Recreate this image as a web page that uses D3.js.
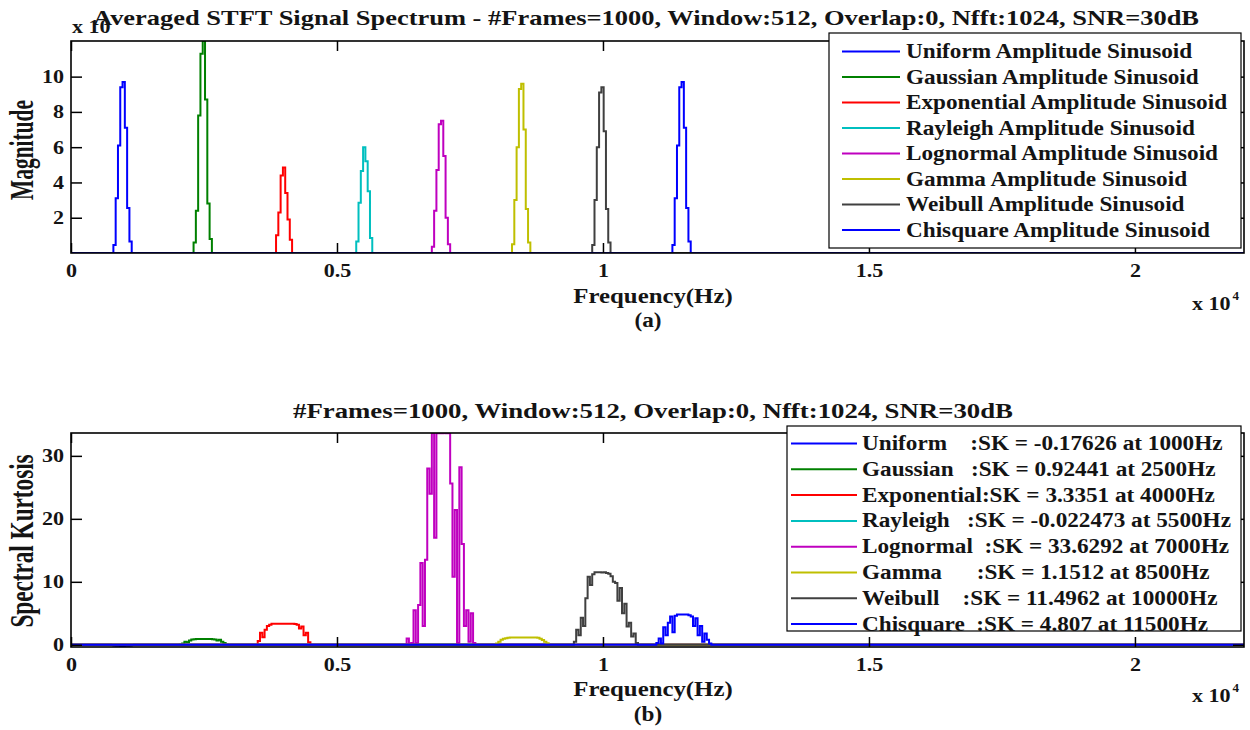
<!DOCTYPE html>
<html>
<head>
<meta charset="utf-8">
<script src="https://cdn.jsdelivr.net/npm/d3@7"></script>
<style>
  html, body { margin: 0; padding: 0; background: #fff; }
  svg { display: block; }
  text {
    font-family: "Liberation Serif", "Times New Roman", serif;
    font-weight: bold;
    fill: #141414;
    white-space: pre;
  }
</style>
</head>
<body>
<svg id="fig" width="1250" height="730"></svg>
<script>
// ---- Analysis settings ----
const sampleRate = 44100;
const nfft = 1024;
const frameCount = 1000, windowLen = 512, overlap = 0, snrDb = 30;

// ---- Signals ----
const signalNames = ["Uniform", "Gaussian", "Exponential", "Rayleigh",
                     "Lognormal", "Gamma", "Weibull", "Chisquare"];
const skLabelNames = ["Uniform    ", "Gaussian   ", "Exponential", "Rayleigh   ",
                      "Lognormal  ", "Gamma      ", "Weibull    ", "Chisquare  "];
const toneFreqs = [1000, 2500, 4000, 5500, 7000, 8500, 10000, 11500];
const skValues = [-0.17626, 0.92441, 3.3351, -0.022473, 33.6292, 1.1512, 11.4962, 4.807];

// ---- Averaged magnitude spectrum (non-zero bins around each tone) ----
const spectrumStartBin = [18, 53, 89, 124, 157, 192, 227, 262];
const uniformMag     = [0, 0.45, 3.1, 6.1, 9.4, 9.7, 7.1, 2.55, 0.65, 0];
const gaussianMag    = [0, 0.6, 2.4, 7.8, 11.3, 12.02, 8.7, 2.8, 0.8, 0];
const exponentialMag = [0, 1.0, 2.3, 4.4, 4.85, 3.4, 1.9, 0.75, 0];
const rayleighMag    = [0, 0.65, 2.85, 4.65, 6.0, 5.2, 3.5, 0.85, 0];
const lognormalMag   = [0, 0.35, 2.4, 4.7, 7.3, 7.5, 5.5, 2.0, 0.5, 0];
const gammaMag       = [0, 0.5, 3.0, 6.0, 9.3, 9.6, 7.0, 2.5, 0.6, 0];
const weibullMag     = [0, 0.45, 3.0, 6.0, 9.1, 9.4, 6.9, 2.5, 0.6, 0];
const chisquareMag   = [0, 0.45, 3.1, 6.1, 9.4, 9.7, 7.1, 2.55, 0.65, 0];

// ---- Spectral kurtosis (non-zero bins around each tone) ----
const skStartBin = [17, 47, 81, 124, 146, 185, 219, 255];
const uniformSK     = [0, -0.05, -0.12, -0.16, -0.17, -0.175, -0.17626, -0.17, -0.15, -0.1, -0.05, 0];
const gaussianSK    = [0, 0.05, 0.2, 0.5, 0.4, 0.7, 0.85, 0.9, 0.92, 0.92, 0.92, 0.92441, 0.92, 0.92,
                       0.91, 0.9, 0.85, 0.7, 0.8, 0.5, 0.3, 0.05, 0];
const exponentialSK = [0, 0.6, 1.9, 1.2, 2.4, 3.0, 3.2, 3.33, 3.34, 3.34, 3.34, 3.34, 3.3351,
                       3.34, 3.34, 3.34, 3.34, 3.3, 3.2, 2.6, 2.9, 1.5, 1.9, 0.4, 0];
const rayleighSK    = [0, -0.01, -0.02, -0.022, -0.022473, -0.02, -0.01, 0];
const lognormalSK   = [0, 1.0, 0.2, 0.3, 5.5, 0.3, 6.3, 13.0, 3.0, 13.5, 28.0, 24.0, 33.6, 17.0,
                       33.6, 33.6, 33.6, 33.6292, 33.6, 33.6, 25.6, 10.8, 21.4, 0.3, 28.2,
                       16.0, 3.0, 5.5, 0.5, 5.0, 0.3, 0];
const gammaSK       = [0, 0.2, 0.5, 0.8, 0.95, 1.05, 1.1, 1.15, 1.15, 1.15, 1.15, 1.15, 1.1512,
                       1.15, 1.15, 1.15, 1.15, 1.15, 1.15, 1.1, 0.95, 0.75, 0.5, 0.25, 0];
const weibullSK     = [0, 0.5, 2.4, 1.5, 4.3, 3.0, 7.4, 10.8, 9.5, 11.2, 11.5, 11.5, 11.5, 11.4962,
                       11.5, 11.4, 11.3, 10.9, 10.0, 9.8, 7.0, 9.0, 5.0, 6.5, 2.9, 3.5, 1.3, 1.8, 0.3, 0];
const chisquareSK   = [0, 0.3, 1.0, 0.2, 2.8, 1.5, 3.5, 4.5, 2.0, 4.6, 4.8, 4.8, 4.807, 4.8,
                       4.8, 4.7, 4.5, 3.0, 4.2, 1.5, 3.0, 0.5, 1.8, 0.8, 0.2, 0];

// ---- Axis ticks ----
const freqTicks = [0, 5000, 10000, 15000, 20000];
const magTicks = [2, 4, 6, 8, 10];
const skTicks = [0, 10, 20, 30];

// ---- Line colours (MATLAB default order) ----
const lineColors = ["#0000ff", "#008000", "#ff0000", "#00bfbf",
                    "#bf00bf", "#bfbf00", "#404040", "#0000ff"];

const magSeries = [uniformMag, gaussianMag, exponentialMag, rayleighMag,
                   lognormalMag, gammaMag, weibullMag, chisquareMag];
const skSeries = [uniformSK, gaussianSK, exponentialSK, rayleighSK,
                  lognormalSK, gammaSK, weibullSK, chisquareSK];

const binHz = sampleRate / nfft;
const nyquist = sampleRate / 2;

// Full-range trace: zero outside the listed bins
function trace(startBin, vals) {
  const pts = [[0, 0]];
  vals.forEach((v, i) => pts.push([(startBin + i) * binHz, v]));
  pts.push([nyquist, 0]);
  return pts;
}

const svg = d3.select("#fig");
const TX = 1.16; // horizontal text stretch

function stretch(sel, k) {
  sel.each(function () {
    const w = this.getComputedTextLength();
    d3.select(this).attr("textLength", w * k).attr("lengthAdjust", "spacingAndGlyphs");
  });
  return sel;
}
function fitWidth(sel, w) {
  return sel.attr("textLength", w).attr("lengthAdjust", "spacingAndGlyphs");
}

const x = d3.scaleLinear().domain([0, nyquist]).range([71, 1244]);

function drawPanel(cfg) {
  const { y, yTicks, top, bottom, data, startBins, clipId } = cfg;
  const g = svg.append("g");

  g.append("clipPath").attr("id", clipId)
    .append("rect").attr("x", x.range()[0]).attr("y", top)
    .attr("width", x.range()[1] - x.range()[0]).attr("height", bottom - top);

  // series, drawn as per-bin steps
  const line = d3.line().x(d => x(d[0])).y(d => y(d[1])).curve(d3.curveStep);
  const lines = g.append("g").attr("clip-path", `url(#${clipId})`);
  data.forEach((vals, i) => {
    lines.append("path")
      .attr("d", line(trace(startBins[i], vals)))
      .attr("fill", "none")
      .attr("stroke", lineColors[i])
      .attr("stroke-width", 2)
      .attr("stroke-linejoin", "miter");
  });

  // bottom axis (ticks pointing inward)
  const xb = g.append("g").attr("transform", `translate(0,${bottom})`)
    .call(d3.axisBottom(x).tickValues(freqTicks).tickSizeInner(-10).tickSizeOuter(0)
      .tickPadding(11).tickFormat(d => d3.format("~g")(d / 10000)));
  // top mirror ticks
  const xt = g.append("g").attr("transform", `translate(0,${top})`)
    .call(d3.axisTop(x).tickValues(freqTicks).tickSizeInner(-10).tickSizeOuter(0).tickFormat(""));
  // left axis
  const yl = g.append("g").attr("transform", `translate(${x.range()[0]},0)`)
    .call(d3.axisLeft(y).tickValues(yTicks).tickSizeInner(-11).tickSizeOuter(0).tickPadding(7));
  // right mirror ticks
  const yr = g.append("g").attr("transform", `translate(${x.range()[1]},0)`)
    .call(d3.axisRight(y).tickValues(yTicks).tickSizeInner(-11).tickSizeOuter(0).tickFormat(""));

  [xb, xt, yl, yr].forEach(a => {
    a.select(".domain").remove();
    a.selectAll(".tick line").attr("stroke", "#000").attr("stroke-width", 1.5);
    a.selectAll("text").attr("font-size", 19).attr("fill", "#141414")
      .attr("font-family", null);
  });
  stretch(xb.selectAll("text"), TX);
  stretch(yl.selectAll("text"), TX);

  // axes box
  g.append("rect")
    .attr("x", x.range()[0]).attr("y", top)
    .attr("width", x.range()[1] - x.range()[0]).attr("height", bottom - top)
    .attr("fill", "none").attr("stroke", "#000").attr("stroke-width", 1.6);
  return g;
}

// ===== Panel (a): averaged magnitude spectrum =====
const yMag = d3.scaleLinear().domain([0, 12.02]).range([253, 41]);
drawPanel({ y: yMag, yTicks: magTicks, top: 41, bottom: 253,
            data: magSeries, startBins: spectrumStartBin, clipId: "clipA" });

// ===== Panel (b): spectral kurtosis =====
const ySK = d3.scaleLinear().domain([-0.35, 33.63]).range([647, 433]);
drawPanel({ y: ySK, yTicks: skTicks, top: 433, bottom: 647,
            data: skSeries, startBins: skStartBin, clipId: "clipB" });

// ---- exponent labels ----
function expLabel(px, py, exp) {
  const t = svg.append("text").attr("x", px).attr("y", py).attr("font-size", 19);
  t.append("tspan").text("x 10");
  stretch(t, TX);
  if (exp !== null) {
    const w = +t.attr("textLength");
    svg.append("text").attr("x", px + w + 2).attr("y", py - 10)
      .attr("font-size", 13).text(exp);
  }
}
expLabel(72, 33, null);
expLabel(1192, 310, "4");
expLabel(1192, 702, "4");

// ---- titles ----
const settings = `#Frames=${frameCount}, Window:${windowLen}, Overlap:${overlap}, Nfft:${nfft}, SNR=${snrDb}dB`;
fitWidth(svg.append("text").attr("x", 93).attr("y", 25).attr("font-size", 21)
  .text(`Averaged STFT Signal Spectrum - ${settings}`), 1106);
fitWidth(svg.append("text").attr("x", 293).attr("y", 418).attr("font-size", 20)
  .text(settings), 720);

// ---- axis labels ----
function xLabel(cy, tag, tagY) {
  stretch(svg.append("text").attr("x", 653).attr("y", cy).attr("text-anchor", "middle")
    .attr("font-size", 20).text("Frequency(Hz)"), 1.24);
  stretch(svg.append("text").attr("x", 648).attr("y", tagY).attr("text-anchor", "middle")
    .attr("font-size", 20).text(tag), 1.16);
}
xLabel(303, "(a)", 327);
xLabel(696, "(b)", 721);

function yLabel(cx, cy, label) {
  const t = svg.append("g")
    .attr("transform", `translate(${cx},${cy}) rotate(-90) scale(1.0,1.7)`)
    .append("text").attr("text-anchor", "middle").attr("font-size", 20).text(label);
  return t;
}
stretch(yLabel(33, 150, "Magnitude"), 1.07);
stretch(yLabel(33, 541, "Spectral Kurtosis"), 1.16);

// ---- legends ----
function legend(cfg) {
  const { x0, y0, x1, y1, lineX0, lineX1, textX, firstY, step, labels } = cfg;
  const g = svg.append("g");
  g.append("rect").attr("x", x0).attr("y", y0).attr("width", x1 - x0).attr("height", y1 - y0)
    .attr("fill", "#fff").attr("stroke", "#000").attr("stroke-width", 1.2);
  labels.forEach((lab, i) => {
    const cy = firstY + i * step;
    g.append("line").attr("x1", lineX0).attr("x2", lineX1).attr("y1", cy).attr("y2", cy)
      .attr("stroke", lineColors[i]).attr("stroke-width", 2);
    stretch(g.append("text").attr("x", textX).attr("y", cy + 6.5).attr("font-size", 20)
      .text(lab), TX);
  });
}
legend({ x0: 829, y0: 33, x1: 1241, y1: 248, lineX0: 842, lineX1: 900, textX: 906,
         firstY: 51.5, step: 25.5,
         labels: signalNames.map(n => `${n} Amplitude Sinusoid`) });
legend({ x0: 787, y0: 426, x1: 1241, y1: 631, lineX0: 791, lineX1: 857, textX: 862,
         firstY: 443.5, step: 25.8,
         labels: skLabelNames.map((n, i) => `${n}:SK = ${skValues[i]} at ${toneFreqs[i]}Hz`) });
</script>
</body>
</html>
